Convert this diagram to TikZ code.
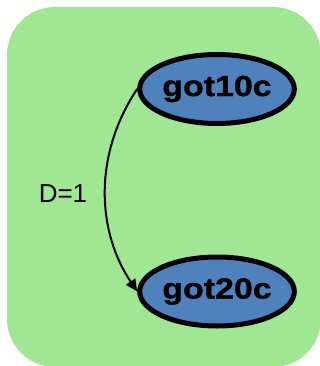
\documentclass[tikz,border=0pt]{standalone}
\usepackage{fontspec}
\setmainfont{Liberation Sans}
\newfontfamily\nodefont[FakeBold=1.2,FakeStretch=1.17]{Liberation Sans Bold}
\usetikzlibrary{shapes.geometric,arrows.meta}
\definecolor{clustergreen}{RGB}{161,230,146}
\definecolor{nodeblue}{RGB}{79,129,189}
\tikzset{
  gnode/.style={ellipse, draw=black, fill=nodeblue, line width=5pt,
    minimum width=147pt, minimum height=69pt, inner sep=0pt,
    font=\fontsize{29}{29}\selectfont\nodefont},
  edge/.style={line width=2pt, -{Triangle[length=12pt,width=11pt]}},
  elabel/.style={font=\fontsize{26}{26}\selectfont, inner sep=0pt}
}
\begin{document}
\begin{tikzpicture}[x=1pt,y=-1pt]
\useasboundingbox (0,0) rectangle (320,366);
\clip (0,0) rectangle (320,366);
\fill[clustergreen, rounded corners=48pt] (7,7) rectangle (321,367);
\node[gnode] (a) at (217,89) {got10c};
\node[gnode] (b) at (217,291.5) {got20c};
\draw[edge] (a.west) .. controls (95,152) and (95,228) .. (b.west);
\node[elabel] (l) at (63,193.5) {D=1};
\end{tikzpicture}
\end{document}
